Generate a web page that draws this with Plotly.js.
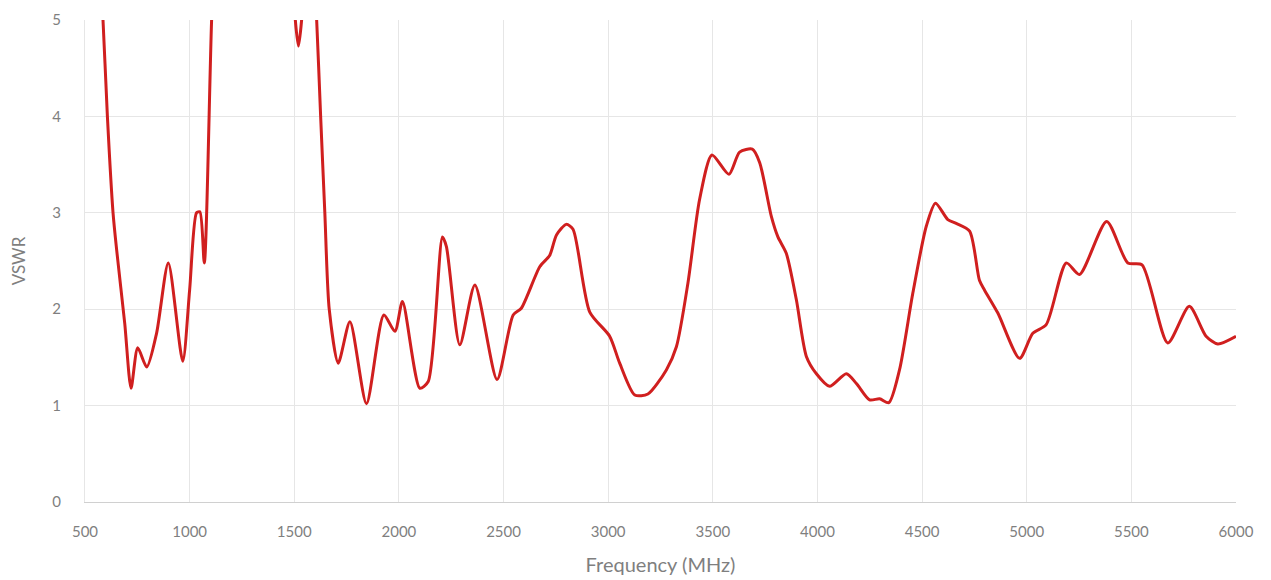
<!DOCTYPE html>
<html>
<head>
<meta charset="utf-8">
<script src="https://cdn.plot.ly/plotly-3.0.1.min.js"></script>
<style>
  html, body { margin: 0; padding: 0; background: #ffffff; }
  #chart { width: 1271px; height: 580px; }
</style>
</head>
<body>
<div id="chart"></div>
<script>
// Frequency (MHz) and VSWR values
const frequencyMHz = [
  520, 586, 607, 634, 651, 690, 720, 752, 795, 842, 898, 967, 1000, 1033, 1049, 1070, 1105,
  1150, 1300, 1460, 1505, 1520, 1535, 1570, 1607, 1626, 1646, 1667, 1710, 1766, 1845,
  1928, 1981, 2017, 2100, 2140, 2208, 2227, 2291, 2363, 2469, 2546, 2585, 2673, 2721,
  2753, 2800, 2832, 2912, 3007, 3055, 3127, 3190, 3278, 3326, 3381, 3437, 3496, 3577,
  3628, 3689, 3724, 3780, 3811, 3851, 3899, 3947, 3995, 4058, 4138, 4186, 4249, 4297,
  4341, 4392, 4456, 4520, 4564, 4623, 4663, 4727, 4774, 4798, 4862, 4966, 5029, 5093,
  5189, 5252, 5382, 5483, 5551, 5674, 5777, 5857, 5913, 6000
];
const vswr = [
  7.5, 5.0, 4.0, 3.0, 2.62, 1.85, 1.18, 1.60, 1.40, 1.75, 2.48, 1.46, 2.2, 3.0, 3.01, 2.48, 5.0,
  7.5, 9.0, 7.0, 5.0, 4.73, 5.0, 6.5, 5.0, 4.0, 3.0, 2.0, 1.44, 1.87, 1.02,
  1.94, 1.77, 2.08, 1.18, 1.25, 2.75, 2.65, 1.63, 2.25, 1.27, 1.94, 2.01, 2.44, 2.56,
  2.77, 2.88, 2.83, 1.97, 1.72, 1.44, 1.11, 1.12, 1.37, 1.61, 2.27, 3.14, 3.60, 3.40,
  3.63, 3.66, 3.52, 2.96, 2.75, 2.58, 2.10, 1.51, 1.33, 1.20, 1.33, 1.23, 1.06, 1.07,
  1.03, 1.37, 2.17, 2.86, 3.10, 2.93, 2.89, 2.81, 2.30, 2.20, 1.96, 1.49, 1.75, 1.84,
  2.48, 2.36, 2.91, 2.48, 2.46, 1.65, 2.03, 1.72, 1.64, 1.72
];
const xTicks = [500, 1000, 1500, 2000, 2500, 3000, 3500, 4000, 4500, 5000, 5500, 6000];
const yTicks = [0, 1, 2, 3, 4, 5];

const trace = {
  x: frequencyMHz,
  y: vswr,
  type: 'scatter',
  mode: 'lines',
  line: { color: '#d01f1f', width: 3, shape: 'spline', smoothing: 0.7 },
  hoverinfo: 'x+y'
};

const fontFam = 'Lato, "Open Sans", "DejaVu Sans", sans-serif';
const layout = {
  width: 1271,
  height: 580,
  margin: { l: 85, r: 35, t: 20, b: 78 },
  paper_bgcolor: '#ffffff',
  plot_bgcolor: '#ffffff',
  showlegend: false,
  font: { family: fontFam, color: '#7f7f7f', size: 14 },
  xaxis: {
    range: [500, 6000],
    tickvals: xTicks,
    ticktext: xTicks.map(String),
    showgrid: true,
    gridcolor: '#e6e6e6',
    gridwidth: 1,
    showline: true,
    linecolor: '#d0d0d0',
    linewidth: 1,
    zeroline: false,
    ticks: '',
    ticklabelstandoff: 16,
    tickfont: { family: fontFam, size: 15, color: '#7f7f7f' },
    title: { text: 'Frequency (MHz)', font: { family: fontFam, size: 20, color: '#7f7f7f' }, standoff: 18 }
  },
  yaxis: {
    range: [0, 5],
    tickvals: yTicks,
    ticktext: yTicks.map(String),
    showgrid: true,
    gridcolor: '#e6e6e6',
    gridwidth: 1,
    showline: true,
    linecolor: '#e6e6e6',
    zeroline: false,
    ticks: '',
    ticklabelstandoff: 20,
    tickfont: { family: fontFam, size: 15, color: '#7f7f7f' },
    title: { text: 'VSWR', font: { family: fontFam, size: 17, color: '#7f7f7f' }, standoff: 22 }
  }
};

Plotly.newPlot('chart', [trace], layout, { displayModeBar: false, staticPlot: true });
</script>
</body>
</html>
